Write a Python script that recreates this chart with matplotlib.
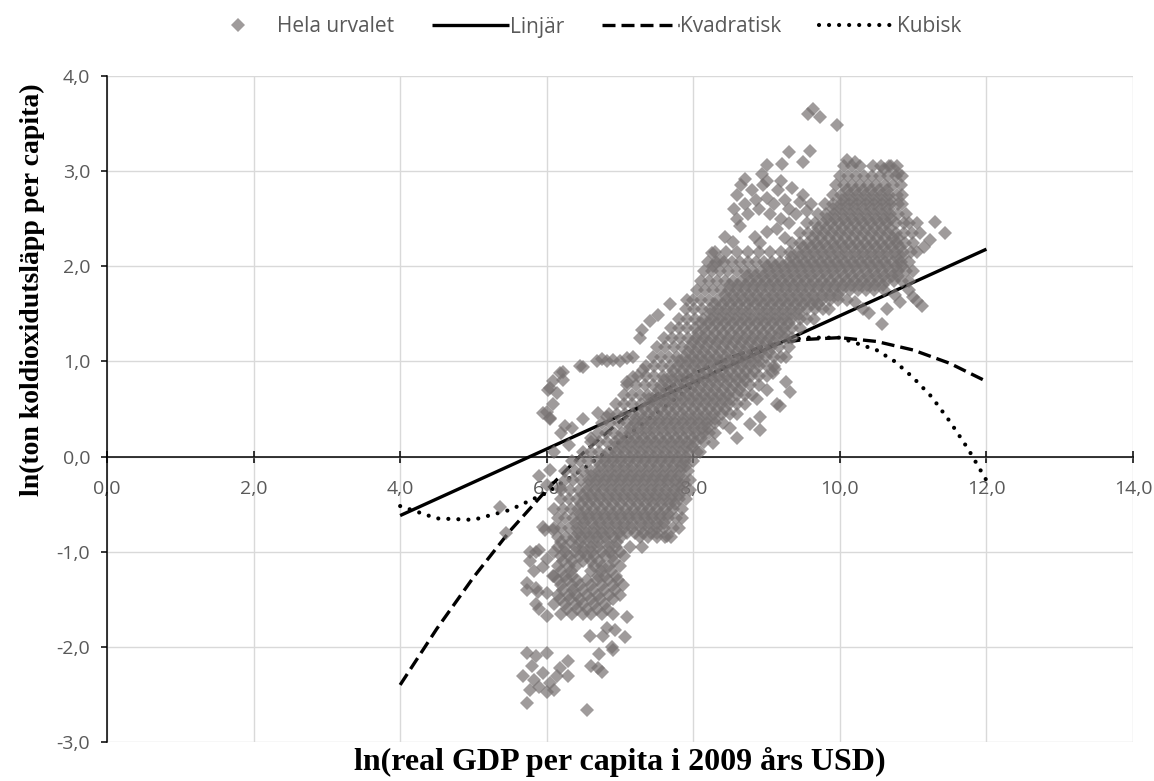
import numpy as np
import matplotlib
matplotlib.use("Agg")
import matplotlib.pyplot as plt
from matplotlib.lines import Line2D

# ---- trend lines ----
lin_x = [4.0, 12.0]
lin_y = [-0.62, 2.18]

quad_x = [4.0, 4.5, 5.0, 5.5, 6.0, 6.5, 7.0, 7.5, 8.0, 8.5, 9.0, 9.5, 10.0, 10.5, 11.0, 11.5, 12.0]
quad_y = [-2.40, -1.81, -1.27, -0.78, -0.35, 0.04, 0.37, 0.65, 0.87, 1.04, 1.17, 1.23, 1.25, 1.21, 1.12, 0.98, 0.79]

cub_x = [4.0, 4.5, 5.0, 5.5, 6.0, 6.5, 7.0, 7.5, 8.0, 8.5, 9.0, 9.5, 10.0, 10.5, 10.75, 11.0, 11.25, 11.5, 11.75, 12.0]
cub_y = [-0.52, -0.65, -0.665, -0.56, -0.38, -0.13, 0.16, 0.46, 0.75, 0.98, 1.16, 1.25, 1.25, 1.12, 1.0, 0.83, 0.63, 0.37, 0.08, -0.25]

# ---- scatter: rows of the main band (y, x positions) ----
band_y = [-0.85, -0.75, -0.65, -0.55, -0.45, -0.35, -0.25, -0.15, -0.05, 0.05,
          0.15, 0.25, 0.35, 0.45, 0.55, 0.65, 0.75, 0.85, 0.95, 1.05,
          1.15, 1.25, 1.35, 1.45, 1.55, 1.65, 1.75, 1.85, 1.95, 2.05,
          2.15, 2.25, 2.35, 2.45, 2.55, 2.65, 2.75, 2.85, 2.95, 3.05]
band_x = [
    [6.15, 6.26, 6.37, 6.47, 6.58, 6.69, 6.8, 6.92, 7.02, 7.27, 7.38, 7.5, 7.62, 7.7],
    [6.1, 6.2, 6.31, 6.42, 6.52, 6.64, 6.74, 6.85, 6.96, 7.06, 7.17, 7.28, 7.39, 7.5, 7.6, 7.72, 7.8],
    [6.15, 6.25, 6.36, 6.48, 6.58, 6.69, 6.8, 6.9, 7.01, 7.12, 7.23, 7.34, 7.44, 7.55, 7.66, 7.76, 7.85],
    [6.1, 6.22, 6.33, 6.43, 6.54, 6.65, 6.76, 6.86, 6.97, 7.08, 7.19, 7.3, 7.4, 7.51, 7.62, 7.73, 7.84],
    [6.2, 6.3, 6.41, 6.52, 6.62, 6.73, 6.84, 6.95, 7.05, 7.16, 7.27, 7.38, 7.48, 7.59, 7.7, 7.8, 7.9],
    [6.2, 6.32, 6.44, 6.55, 6.66, 6.77, 6.88, 6.98, 7.09, 7.2, 7.31, 7.42, 7.52, 7.63, 7.74, 7.85, 7.95],
    [6.25, 6.36, 6.47, 6.58, 6.69, 6.8, 6.91, 7.01, 7.12, 7.23, 7.34, 7.45, 7.56, 7.66, 7.77, 7.88, 7.95],
    [6.25, 6.38, 6.5, 6.61, 6.72, 6.83, 6.94, 7.05, 7.16, 7.27, 7.38, 7.49, 7.6, 7.71, 7.82, 7.93],
    [6.35, 6.46, 6.57, 6.68, 6.79, 6.9, 7.01, 7.12, 7.23, 7.34, 7.45, 7.56, 7.67, 7.78, 7.89, 8.0],
    [6.5, 6.61, 6.72, 6.83, 6.94, 7.05, 7.16, 7.27, 7.38, 7.49, 7.6, 7.71, 7.82, 7.93, 8.05],
    [6.6, 6.71, 6.82, 6.93, 7.04, 7.15, 7.26, 7.37, 7.48, 7.59, 7.7, 7.81, 7.92, 8.03, 8.15],
    [6.7, 6.81, 6.92, 7.03, 7.14, 7.25, 7.36, 7.47, 7.58, 7.69, 7.8, 7.91, 8.02, 8.13, 8.22, 8.3],
    [6.75, 6.87, 6.98, 7.09, 7.2, 7.31, 7.42, 7.53, 7.64, 7.75, 7.86, 7.97, 8.08, 8.19, 8.3, 8.4],
    [6.85, 6.96, 7.07, 7.18, 7.29, 7.4, 7.51, 7.62, 7.73, 7.84, 7.95, 8.06, 8.17, 8.28, 8.39, 8.5, 8.6],
    [6.95, 7.06, 7.17, 7.28, 7.39, 7.5, 7.61, 7.72, 7.83, 7.94, 8.05, 8.16, 8.27, 8.38, 8.49, 8.6, 8.7],
    [7.05, 7.16, 7.27, 7.38, 7.49, 7.6, 7.71, 7.82, 7.93, 8.04, 8.15, 8.26, 8.37, 8.48, 8.59, 8.7, 8.8],
    [7.1, 7.22, 7.34, 7.45, 7.56, 7.67, 7.78, 7.89, 8.0, 8.11, 8.22, 8.33, 8.44, 8.55, 8.66, 8.77, 8.9],
    [7.25, 7.36, 7.47, 7.58, 7.69, 7.8, 7.91, 8.02, 8.13, 8.24, 8.35, 8.46, 8.57, 8.68, 8.79, 8.9, 9.0],
    [7.35, 7.46, 7.57, 7.68, 7.79, 7.9, 8.01, 8.12, 8.23, 8.34, 8.45, 8.56, 8.67, 8.78, 8.89, 9.0, 9.1],
    [7.45, 7.56, 7.67, 7.78, 7.89, 8.0, 8.11, 8.22, 8.33, 8.44, 8.55, 8.66, 8.77, 8.88, 8.99, 9.1, 9.2],
    [7.5, 7.62, 7.74, 7.85, 7.96, 8.07, 8.18, 8.29, 8.4, 8.51, 8.62, 8.73, 8.84, 8.95, 9.06, 9.17, 9.3],
    [7.6, 7.71, 7.82, 7.93, 8.04, 8.15, 8.26, 8.37, 8.48, 8.59, 8.7, 8.81, 8.92, 9.03, 9.14, 9.25, 9.35],
    [7.7, 7.81, 7.92, 8.03, 8.14, 8.25, 8.36, 8.47, 8.58, 8.69, 8.8, 8.91, 9.02, 9.13, 9.24, 9.35, 9.45],
    [7.8, 7.91, 8.02, 8.13, 8.24, 8.35, 8.46, 8.57, 8.68, 8.79, 8.9, 9.01, 9.12, 9.23, 9.34, 9.45, 9.55, 9.65],
    [7.9, 8.01, 8.12, 8.23, 8.34, 8.45, 8.56, 8.67, 8.78, 8.89, 9.0, 9.11, 9.22, 9.33, 9.44, 9.55, 9.66, 9.77, 9.85],
    [8.0, 8.11, 8.22, 8.33, 8.44, 8.55, 8.66, 8.77, 8.88, 8.99, 9.1, 9.21, 9.32, 9.43, 9.54, 9.65, 9.76, 9.87, 9.98, 10.1],
    [8.05, 8.16, 8.27, 8.38, 8.49, 8.6, 8.71, 8.82, 8.93, 9.04, 9.15, 9.26, 9.37, 9.48, 9.59, 9.7, 9.81, 9.92,
     10.03, 10.14, 10.25, 10.36, 10.47, 10.6],
    [8.1, 8.21, 8.32, 8.43, 8.54, 8.65, 8.76, 8.87, 8.98, 9.09, 9.2, 9.31, 9.42, 9.53, 9.64, 9.75, 9.86, 9.97,
     10.08, 10.19, 10.3, 10.41, 10.52, 10.63, 10.74, 10.85, 10.95],
    [8.15, 8.26, 8.37, 8.48, 8.59, 8.7, 8.81, 8.92, 9.03, 9.14, 9.25, 9.36, 9.47, 9.58, 9.69, 9.8, 9.91, 10.02,
     10.13, 10.24, 10.35, 10.46, 10.57, 10.68, 10.79, 10.9, 11.0],
    [8.2, 8.31, 8.42, 8.53, 8.64, 8.75, 8.86, 8.97, 9.08, 9.19, 9.3, 9.41, 9.52, 9.63, 9.74, 9.85, 9.96, 10.07,
     10.18, 10.29, 10.4, 10.51, 10.62, 10.73, 10.84, 10.95],
    [8.3, 8.45, 8.6, 8.75, 8.9, 9.05, 9.2, 9.32, 9.43, 9.54, 9.65, 9.76, 9.87, 9.98, 10.09, 10.2, 10.31, 10.42,
     10.53, 10.64, 10.75, 10.86, 10.97, 11.05],
    [9.35, 9.46, 9.57, 9.68, 9.79, 9.9, 10.01, 10.12, 10.23, 10.34, 10.45, 10.56, 10.67, 10.78, 10.89, 11.0],
    [9.45, 9.56, 9.67, 9.78, 9.89, 10.0, 10.11, 10.22, 10.33, 10.44, 10.55, 10.66, 10.77, 10.88, 10.98],
    [9.55, 9.66, 9.77, 9.88, 9.99, 10.1, 10.21, 10.32, 10.43, 10.54, 10.65, 10.76, 10.87, 10.95],
    [9.7, 9.81, 9.92, 10.03, 10.14, 10.25, 10.36, 10.47, 10.58, 10.69, 10.8, 10.9],
    [9.8, 9.91, 10.02, 10.13, 10.24, 10.35, 10.46, 10.57, 10.68, 10.79, 10.85],
    [9.9, 10.01, 10.12, 10.23, 10.34, 10.45, 10.56, 10.67, 10.78, 10.85],
    [9.95, 10.06, 10.17, 10.28, 10.39, 10.5, 10.61, 10.72, 10.83],
    [10.0, 10.11, 10.22, 10.33, 10.44, 10.55, 10.66, 10.77, 10.85],
    [10.05, 10.16, 10.27, 10.45, 10.56, 10.67, 10.78],
]

# the darkest core of the band, between the rows above
core_y = [-0.8, -0.7, -0.6, -0.5, -0.4, -0.3, -0.2, -0.1, 0.0, 0.1,
          0.2, 0.3, 0.4, 0.5, 0.6, 0.7, 0.8, 0.9, 1.0, 1.1,
          1.2, 1.3, 1.4, 1.5, 1.6, 1.7, 1.8, 1.9, 2.0, 2.1,
          2.2, 2.3, 2.4, 2.5, 2.6, 2.7, 2.8]
core_x = [
    [6.43, 6.54, 6.65, 6.76, 6.87, 6.98, 7.09, 7.2, 7.31, 7.42, 7.5],
    [6.4, 6.51, 6.62, 6.73, 6.84, 6.95, 7.06, 7.17, 7.28, 7.39, 7.5, 7.6],
    [6.45, 6.56, 6.67, 6.78, 6.89, 7.0, 7.11, 7.22, 7.33, 7.44, 7.55, 7.66],
    [6.47, 6.58, 6.69, 6.8, 6.91, 7.02, 7.13, 7.24, 7.35, 7.46, 7.57, 7.68, 7.75],
    [6.5, 6.61, 6.72, 6.83, 6.94, 7.05, 7.16, 7.27, 7.38, 7.49, 7.6, 7.71, 7.8],
    [6.56, 6.67, 6.78, 6.89, 7.0, 7.11, 7.22, 7.33, 7.44, 7.55, 7.66, 7.77, 7.85],
    [6.6, 6.71, 6.82, 6.93, 7.04, 7.15, 7.26, 7.37, 7.48, 7.59, 7.7, 7.81],
    [6.73, 6.84, 6.95, 7.06, 7.17, 7.28, 7.39, 7.5, 7.61, 7.72, 7.83, 7.9],
    [6.8, 6.91, 7.02, 7.13, 7.24, 7.35, 7.46, 7.57, 7.68, 7.79, 7.9],
    [6.93, 7.04, 7.15, 7.26, 7.37, 7.48, 7.59, 7.7, 7.81, 7.92, 8.0],
    [7.0, 7.11, 7.22, 7.33, 7.44, 7.55, 7.66, 7.77, 7.88, 7.99, 8.1],
    [7.13, 7.24, 7.35, 7.46, 7.57, 7.68, 7.79, 7.9, 8.01, 8.12, 8.2],
    [7.2, 7.31, 7.42, 7.53, 7.64, 7.75, 7.86, 7.97, 8.08, 8.19, 8.3],
    [7.33, 7.44, 7.55, 7.66, 7.77, 7.88, 7.99, 8.1, 8.21, 8.32, 8.43],
    [7.4, 7.51, 7.62, 7.73, 7.84, 7.95, 8.06, 8.17, 8.28, 8.39, 8.5],
    [7.53, 7.64, 7.75, 7.86, 7.97, 8.08, 8.19, 8.3, 8.41, 8.52, 8.63],
    [7.6, 7.71, 7.82, 7.93, 8.04, 8.15, 8.26, 8.37, 8.48, 8.59, 8.7],
    [7.73, 7.84, 7.95, 8.06, 8.17, 8.28, 8.39, 8.5, 8.61, 8.72, 8.83],
    [7.8, 7.91, 8.02, 8.13, 8.24, 8.35, 8.46, 8.57, 8.68, 8.79, 8.9],
    [7.93, 8.04, 8.15, 8.26, 8.37, 8.48, 8.59, 8.7, 8.81, 8.92, 9.03],
    [8.0, 8.11, 8.22, 8.33, 8.44, 8.55, 8.66, 8.77, 8.88, 8.99, 9.1],
    [8.07, 8.18, 8.29, 8.4, 8.51, 8.62, 8.73, 8.84, 8.95, 9.06, 9.17, 9.25],
    [8.1, 8.21, 8.32, 8.43, 8.54, 8.65, 8.76, 8.87, 8.98, 9.09, 9.2, 9.31],
    [8.23, 8.34, 8.45, 8.56, 8.67, 8.78, 8.89, 9.0, 9.11, 9.22, 9.33, 9.44],
    [8.3, 8.41, 8.52, 8.63, 8.74, 8.85, 8.96, 9.07, 9.18, 9.29, 9.4, 9.51, 9.62, 9.7],
    [8.43, 8.54, 8.65, 8.76, 8.87, 8.98, 9.09, 9.2, 9.31, 9.42, 9.53, 9.64, 9.75, 9.86, 9.97],
    [8.5, 8.61, 8.72, 8.83, 8.94, 9.05, 9.16, 9.27, 9.38, 9.49, 9.6, 9.71, 9.82, 9.93, 10.04, 10.15, 10.26,
     10.37, 10.48, 10.59],
    [8.73, 8.84, 8.95, 9.06, 9.17, 9.28, 9.39, 9.5, 9.61, 9.72, 9.83, 9.94, 10.05, 10.16, 10.27, 10.38, 10.49,
     10.6, 10.71, 10.8],
    [9.0, 9.11, 9.22, 9.33, 9.44, 9.55, 9.66, 9.77, 9.88, 9.99, 10.1, 10.21, 10.32, 10.43, 10.54, 10.65, 10.76, 10.85],
    [9.33, 9.44, 9.55, 9.66, 9.77, 9.88, 9.99, 10.1, 10.21, 10.32, 10.43, 10.54, 10.65, 10.76, 10.85],
    [9.5, 9.61, 9.72, 9.83, 9.94, 10.05, 10.16, 10.27, 10.38, 10.49, 10.6, 10.71, 10.82],
    [9.63, 9.74, 9.85, 9.96, 10.07, 10.18, 10.29, 10.4, 10.51, 10.62, 10.73, 10.8],
    [9.7, 9.81, 9.92, 10.03, 10.14, 10.25, 10.36, 10.47, 10.58, 10.69],
    [9.83, 9.94, 10.05, 10.16, 10.27, 10.38, 10.49, 10.6, 10.7],
    [9.9, 10.01, 10.12, 10.23, 10.34, 10.45, 10.56, 10.67],
    [10.03, 10.14, 10.25, 10.36, 10.47, 10.58, 10.69],
    [10.1, 10.21, 10.32, 10.43, 10.54, 10.65],
]

# lower block (poorest countries, negative emissions)
low_y = [-1.65, -1.6, -1.55, -1.5, -1.45, -1.4, -1.35, -1.3, -1.25, -1.2,
         -1.15, -1.1, -1.05, -1.0, -0.95, -0.9]
low_x = [
    [6.2, 6.35, 6.5, 6.6, 6.75, 6.9],
    [6.28, 6.42, 6.55, 6.68, 6.82],
    [6.1, 6.25, 6.4, 6.5, 6.65, 6.8],
    [6.18, 6.32, 6.46, 6.6, 6.73, 6.9],
    [6.15, 6.3, 6.4, 6.55, 6.7, 6.85, 7.0],
    [6.22, 6.36, 6.5, 6.63, 6.78, 6.93],
    [6.2, 6.35, 6.45, 6.6, 6.75, 6.9, 7.04],
    [6.15, 6.28, 6.42, 6.55, 6.68, 6.83, 6.97],
    [6.1, 6.25, 6.35, 6.7, 6.8, 6.95],
    [6.2, 6.33, 6.6, 6.74, 6.88],
    [6.15, 6.3, 6.4, 6.65, 6.75, 6.85, 7.0],
    [6.22, 6.35, 6.5, 6.6, 6.72, 6.92],
    [6.2, 6.3, 6.45, 6.55, 6.65, 6.8, 6.9, 7.05],
    [6.1, 6.25, 6.38, 6.5, 6.62, 6.75, 6.86, 7.0],
    [6.15, 6.25, 6.4, 6.5, 6.6, 6.7, 6.85, 6.95, 7.14],
    [6.2, 6.33, 6.46, 6.58, 6.7, 6.82, 6.96],
]

# scattered single points around the edges
edge_x = [5.73, 6.55, 5.77, 6.0, 5.9, 6.04, 5.82, 5.68, 6.14, 6.29, 6.18, 6.29, 5.73, 5.86, 6.0,
          5.8, 6.6, 6.7, 6.75, 6.72, 6.89, 6.9, 6.59, 6.77, 6.82, 6.93, 7.07, 7.09, 5.95, 6.1,
          5.73, 5.88, 5.73, 5.85, 6.0, 5.77, 5.9, 5.86, 5.95, 5.77, 6.0, 5.82, 6.09, 5.98, 5.95,
          6.09, 5.45, 5.36, 5.9, 6.0, 5.85, 7.64, 7.3,
          5.9, 6.0, 6.04, 6.18, 6.0, 6.09, 6.04, 6.25, 5.95, 6.04, 6.2, 6.02, 6.04, 6.09, 6.14,
          6.18, 6.22, 6.22, 6.45, 6.5, 6.68, 6.75, 6.82, 6.9, 7.0, 7.09, 7.18, 6.7, 6.82, 7.09,
          7.18, 7.32, 7.27, 7.41, 7.52, 7.68, 7.91, 7.3, 6.35, 6.5, 6.6, 6.1, 6.3,
          8.09, 8.27, 8.77, 8.91, 8.91, 9.14, 9.18, 9.0, 9.27, 9.32, 9.09, 9.11, 9.27, 8.6, 8.5, 8.87,
          8.43, 8.54, 8.64, 8.84, 8.91, 9.0, 9.14, 9.25, 9.3, 8.25, 8.36, 8.27,
          8.55, 8.6, 8.65, 8.7, 8.75, 8.8, 8.85, 8.9, 8.95, 9.0, 9.05, 9.1, 9.15, 9.2, 9.25, 9.3,
          9.35, 9.4, 9.45, 9.5, 9.55, 9.6, 8.6, 8.7, 9.0, 9.2,
          10.31, 10.64, 10.82, 11.05, 11.12, 10.57, 10.4, 10.75, 10.95, 11.0, 10.2,
          11.3, 11.43, 11.23, 11.15, 11.1, 11.05,
          9.56, 9.63, 9.73, 9.96, 9.3, 9.59, 9.5, 9.21, 9.0, 8.94,
          10.1, 10.2, 10.6, 10.7, 10.8]
edge_y = [-2.59, -2.66, -2.45, -2.47, -2.42, -2.38, -2.35, -2.31, -2.31, -2.31, -2.22, -2.15, -2.06, -2.1, -2.06,
          -2.2, -2.2, -2.22, -2.26, -2.08, -2.0, -2.03, -1.89, -1.89, -1.8, -1.82, -1.9, -1.69, -2.28, -2.45,
          -1.4, -1.42, -1.33, -1.38, -1.43, -1.0, -0.98, -1.0, -1.16, -1.1, -1.08, -1.2, -1.26, -0.77, -0.74,
          -0.77, -0.8, -0.53, -1.6, -1.68, -1.55, -0.84, -0.95,
          -0.2, -0.3, -0.14, -0.32, 0.47, 0.55, 0.41, 0.32, 0.46, 0.39, 0.25, 0.7, 0.72, 0.79, 0.67,
          0.88, 0.81, 0.89, 0.95, 0.94, 1.0, 1.03, 1.0, 1.02, 1.0, 1.04, 1.05, 0.46, 0.42, 0.78,
          0.84, 0.91, 1.25, 1.42, 1.49, 1.6, 1.65, 1.33, 0.3, 0.4, 0.2, 0.05, 0.12,
          0.05, 0.14, 0.34, 0.28, 0.42, 0.55, 0.53, 0.7, 0.78, 0.68, 0.88, 0.92, 1.05, 0.2, 0.3, 0.6,
          2.31, 2.26, 2.42, 2.31, 2.25, 2.36, 2.39, 2.3, 2.45, 2.14, 2.07, 2.0,
          2.6, 2.75, 2.85, 2.65, 2.55, 2.8, 2.7, 2.6, 2.85, 2.72, 2.55, 2.65, 2.8, 2.5, 2.7, 2.6,
          2.82, 2.55, 2.68, 2.75, 2.58, 2.65, 2.5, 2.92, 2.9, 2.9,
          1.55, 1.55, 1.62, 1.63, 1.58, 1.39, 1.51, 1.7, 1.75, 1.68, 1.62,
          2.47, 2.35, 2.28, 2.2, 2.35, 2.45,
          3.60, 3.65, 3.57, 3.48, 3.20, 3.21, 3.10, 3.08, 3.06, 2.97,
          3.12, 3.1, 3.02, 3.05, 2.98]

x_ticks = [0, 2, 4, 6, 8, 10, 12, 14]
y_ticks = [-3, -2, -1, 0, 1, 2, 3, 4]

# flatten the row data
pts_x, pts_y = [], []
for yy, xs in zip(band_y + core_y + low_y, band_x + core_x + low_x):
    pts_x += xs
    pts_y += [yy] * len(xs)
pts_x += edge_x
pts_y += edge_y

grey = '#767171'
txt_grey = '#595959'
lab_font = 'Open Sans'
msize = 7.2
lin_style = dict(color='black', lw=2.4, solid_capstyle='butt')
quad_style = dict(color='black', lw=2.4, dashes=(3.9, 1.8), dash_capstyle='butt')
cub_style = dict(color='black', lw=3.0, dashes=(0.01, 2.4), dash_capstyle='round')

fig = plt.figure(figsize=(11.54, 7.81), dpi=100)
ax = fig.add_axes([107 / 1154, 39 / 781, 1026 / 1154, 666 / 781])

ax.plot(lin_x, lin_y, zorder=2, **lin_style)
ax.plot(quad_x, quad_y, zorder=2, **quad_style)
ax.plot(cub_x, cub_y, zorder=2, **cub_style)
ax.plot(pts_x, pts_y, linestyle='none', marker='D', markersize=msize, markeredgewidth=0,
        color=grey, alpha=0.7, zorder=3)

ax.set_xlim(0, 14)
ax.set_ylim(-3, 4)
ax.set_xticks(x_ticks)
ax.set_yticks(y_ticks)
ax.set_xticklabels([f'{v:.1f}'.replace('.', ',') for v in x_ticks])
ax.set_yticklabels([f'{v:.1f}'.replace('.', ',') for v in y_ticks])

ax.grid(True, color='#d9d9d9', lw=1.0, zorder=0)
ax.set_axisbelow(True)
for s in ['top', 'right']:
    ax.spines[s].set_visible(False)
ax.spines['bottom'].set_position(('data', 0))
ax.spines['left'].set_linewidth(1.1)
ax.spines['bottom'].set_linewidth(1.1)

ax.tick_params(axis='x', direction='inout', length=8.5, width=1.1, pad=12.5, colors='black',
               labelcolor=txt_grey, labelsize=14)
ax.tick_params(axis='y', direction='out', length=4, width=1.1, pad=8, colors='black',
               labelcolor=txt_grey, labelsize=14)
for t in ax.get_xticklabels() + ax.get_yticklabels():
    t.set_family(lab_font)

fig.text(32 / 1154, 1 - 290 / 781, 'ln(ton koldioxidutsläpp per capita)', rotation=90,
         ha='center', va='center', family='Liberation Serif', weight='bold', size=20)
fig.text(620 / 1154, 1 - 762 / 781, 'ln(real GDP per capita i 2009 års USD)',
         ha='center', va='center', family='Liberation Serif', weight='bold', size=23)

handles = [
    Line2D([], [], linestyle='none', marker='D', markersize=msize, markeredgewidth=0, color=grey, alpha=0.7),
    Line2D([], [], **lin_style),
    Line2D([], [], **quad_style),
    Line2D([], [], **cub_style),
]
labels = ['Hela urvalet', 'Linjär', 'Kvadratisk', 'Kubisk']
leg = fig.legend(handles, labels, loc='center', bbox_to_anchor=(580 / 1154, 1 - 27 / 781), ncol=4,
                 frameon=False, handlelength=3.7, handletextpad=0.05, columnspacing=1.8,
                 prop={'family': lab_font, 'size': 15})
for t in leg.get_texts():
    t.set_color(txt_grey)

fig.savefig('out.png', dpi=100)
